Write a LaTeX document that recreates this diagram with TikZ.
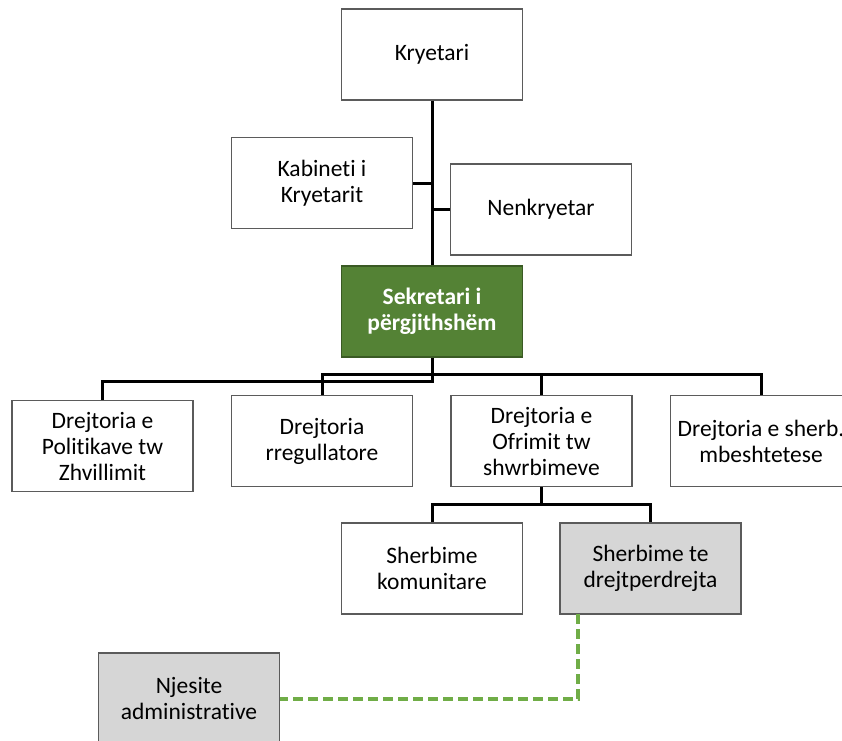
\documentclass[tikz,border=0pt]{standalone}
\usepackage{fontspec}
\setmainfont{Carlito}[Ligatures={NoCommon}]
\usetikzlibrary{calc}
\definecolor{boxline}{HTML}{5B5B5B}
\definecolor{secgreen}{HTML}{548235}
\definecolor{secline}{HTML}{3A5A24}
\definecolor{greybox}{HTML}{D6D6D6}
\definecolor{dashgreen}{HTML}{70AD47}
\begin{document}
\begin{tikzpicture}[x=1pt,y=-1pt,
  orgbox/.style={draw=boxline, line width=1.3pt, fill=white, minimum width=181pt, minimum height=91pt,
    inner sep=0pt, align=center, font=\fontsize{23.5}{26}\selectfont},
  greybx/.style={orgbox, fill=greybox},
  secbox/.style={orgbox, fill=secgreen, draw=secline, text=white, font=\fontsize{23.5}{26}\selectfont\bfseries},
  conn/.style={line width=3pt, black},
  dashlink/.style={line width=4pt, dashgreen, dash pattern=on 10pt off 5pt}]
\useasboundingbox (0,0) rectangle (842,740);
\clip (0,0) rectangle (842,740);
\fill[white] (0,0) rectangle (842,740);

\node[orgbox] (kry) at (432,54.5) {Kryetari};
\node[orgbox] (kab) at (322,183) {Kabineti i\\Kryetarit};
\node[orgbox] (nen) at (541,209.5) {Nenkryetar};
\node[secbox] (sek) at (432,311.5) {Sekretari i\\përgjithshëm};
\node[orgbox] (pol) at (102.5,446) {Drejtoria e\\Politikave tw\\Zhvillimit};
\node[orgbox] (reg) at (322,441) {Drejtoria\\rregullatore};
\node[orgbox] (ofr) at (541.5,441) {Drejtoria e\\Ofrimit tw\\shwrbimeve};
\node[orgbox] (she) at (761,441) {Drejtoria e sherb.\\mbeshtetese};
\node[orgbox] (kom) at (432,568.5) {Sherbime\\komunitare};
\node[greybx] (dre) at (650.5,568.5) {Sherbime te\\drejtperdrejta};
\node[greybx] (nje) at (189,698.5) {Njesite\\administrative};

\coordinate (lowbus) at (432,381);
\coordinate (subbus) at (541.5,504);
\coordinate (dashtop) at (578,614);

\draw[conn] (kry.south) -- (sek.north);
\draw[conn] (kab.east) -- (kab.east -| kry.south);
\draw[conn] (nen.west) -- (nen.west -| kry.south);
\draw[conn] (sek.south) -- (lowbus) -| (pol.north);
\draw[conn] (reg.north) -- ++(0,-20) -| (she.north);
\draw[conn] (ofr.north) -- ++(0,-20);
\draw[conn] (ofr.south) -- (subbus);
\draw[conn] (kom.north) |- (subbus) -| (dre.north);
\draw[dashlink] (dashtop) |- (nje.east);
\end{tikzpicture}
\end{document}
